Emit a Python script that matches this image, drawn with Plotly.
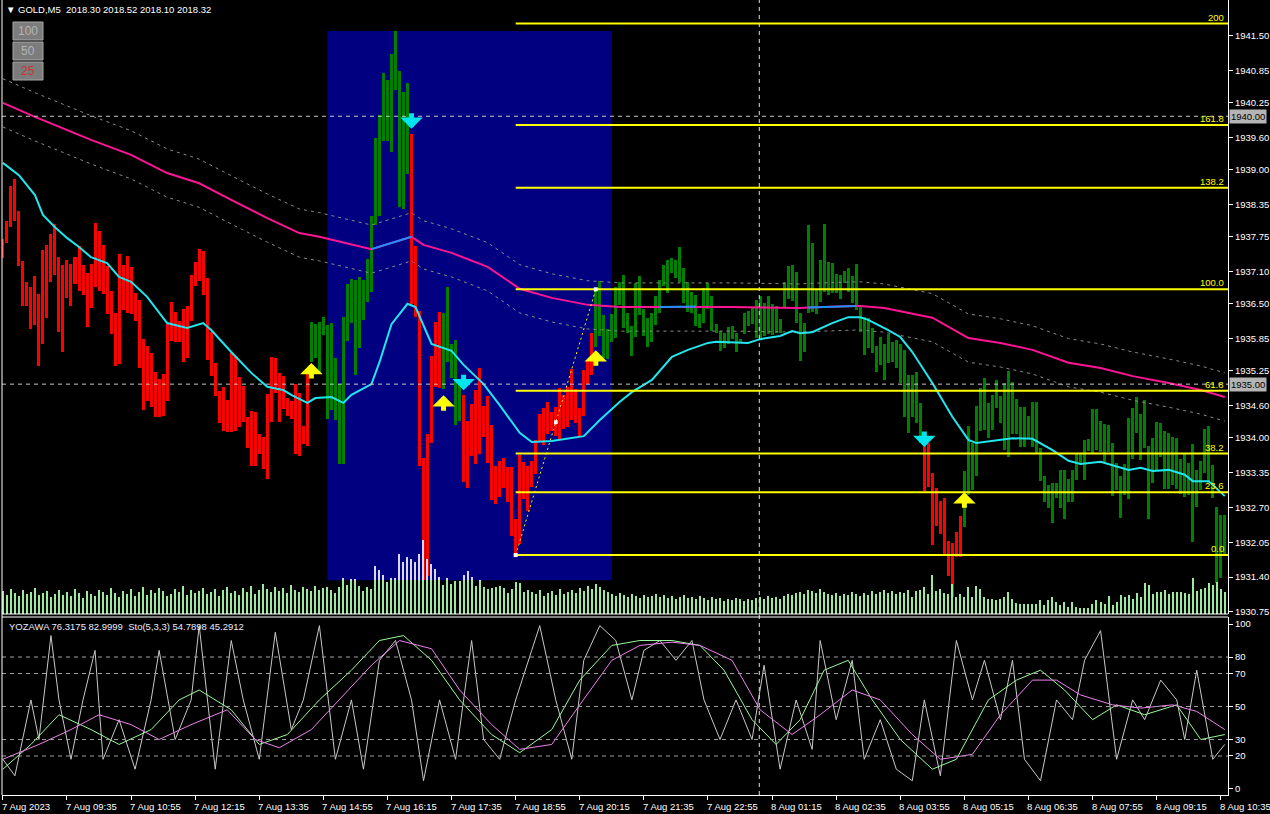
import plotly.graph_objects as go

# ---------------- DATA ----------------
bar_high = [
1937.71,1938.04,1938.70,1938.83,1938.23,1937.30,1936.90,1936.81,1937.01,1936.68,
1937.50,1937.60,1937.81,1937.99,1937.37,1937.23,1937.32,1937.24,1937.37,1937.58,
1937.23,1937.07,1937.24,1938.01,1937.86,1937.60,1937.21,1936.74,1936.33,1937.43,
1937.23,1937.39,1937.19,1936.70,1936.57,1935.84,1935.71,1935.58,1935.22,1935.09,
1935.19,1936.12,1936.53,1936.34,1936.18,1936.40,1936.46,1937.04,1937.28,1937.52,
1937.48,1936.98,1935.97,1935.39,1934.87,1934.95,1934.70,1935.60,1935.53,1935.13,
1934.97,1934.39,1934.50,1934.48,1934.07,1934.01,1934.81,1935.51,1935.49,1935.21,
1935.15,1934.74,1934.68,1935.00,1934.83,1934.22,1935.28,1936.16,1936.12,1936.16,
1936.25,1936.10,1936.14,1935.49,1935.00,1936.25,1936.87,1936.96,1936.94,1937.00,
1936.94,1937.34,1938.14,1939.59,1940.02,1940.81,1940.68,1941.16,1941.59,1940.84,
1940.45,1940.62,1939.67,1937.58,1936.36,1933.62,1934.07,1935.53,1936.16,1936.35,
1936.33,1936.81,1935.75,1935.82,1935.00,1934.80,1934.31,1934.63,1934.89,1935.30,
1934.59,1934.78,1934.24,1933.47,1933.56,1933.62,1933.45,1933.45,1932.48,1933.68,
1933.54,1933.47,1933.56,1933.96,1934.44,1934.55,1934.66,1934.48,1934.57,1934.93,
1934.80,1934.95,1935.28,1934.91,1934.55,1935.26,1935.45,1935.95,1936.77,1936.92,
1936.29,1936.03,1936.31,1936.81,1936.90,1937.04,1936.33,1936.08,1936.89,1937.02,
1936.40,1936.23,1936.33,1936.64,1936.94,1937.23,1937.32,1937.35,1937.32,1937.56,
1937.17,1936.90,1936.72,1936.66,1936.31,1936.79,1936.89,1936.64,1936.12,1935.99,
1935.95,1936.07,1936.08,1935.95,1935.84,1936.33,1936.36,1936.44,1936.57,1936.64,
1936.51,1936.64,1936.49,1936.46,1936.21,1936.90,1937.21,1937.23,1937.10,1936.33,
1936.14,1937.97,1937.63,1936.76,1937.32,1937.99,1937.28,1937.26,1937.06,1937.04,
1937.11,1937.17,1937.02,1937.24,1936.46,1936.25,1936.23,1936.05,1935.71,1935.88,
1935.75,1935.94,1935.78,1935.82,1935.75,1935.64,1935.17,1935.17,1935.22,1934.65,
1933.90,1933.90,1933.34,1933.06,1932.82,1932.87,1932.07,1932.04,1932.24,1932.54,
1933.38,1934.22,1933.90,1934.59,1934.93,1935.12,1934.65,1934.80,1935.08,1934.78,
1935.02,1935.25,1935.04,1934.72,1934.57,1934.57,1934.41,1934.66,1934.66,1933.81,
1933.29,1933.12,1933.15,1933.15,1933.40,1933.40,1933.23,1933.40,1933.71,1933.70,
1933.96,1933.98,1934.53,1934.53,1934.31,1934.25,1934.24,1933.90,1933.53,1933.29,
1933.51,1934.37,1934.55,1934.76,1934.44,1934.70,1933.84,1933.99,1934.29,1934.27,
1934.12,1934.09,1934.01,1933.99,1933.60,1933.70,1933.53,1933.88,1933.40,1933.56,
1934.16,1934.22,1933.49,1932.71,1932.56,1932.56]

bar_low = [
1937.35,1937.63,1937.93,1938.04,1937.21,1936.46,1936.46,1936.03,1936.10,1935.34,
1935.75,1936.23,1936.90,1937.04,1935.97,1935.60,1936.61,1936.46,1936.87,1936.74,
1936.66,1936.07,1936.42,1936.81,1936.74,1936.68,1936.31,1935.94,1935.34,1935.38,
1936.38,1936.33,1936.31,1936.18,1935.30,1934.52,1934.68,1934.57,1934.39,1934.39,
1934.41,1934.68,1935.80,1935.78,1935.78,1935.41,1935.49,1936.18,1936.83,1936.92,
1936.66,1935.45,1935.15,1934.78,1934.27,1934.12,1934.10,1934.10,1934.12,1934.20,
1934.29,1933.81,1933.47,1933.47,1933.70,1933.42,1933.23,1934.29,1934.83,1934.29,
1934.53,1934.41,1934.35,1933.70,1933.66,1933.88,1933.85,1935.41,1935.49,1935.19,
1935.92,1934.35,1934.52,1934.33,1933.51,1933.51,1935.80,1936.14,1935.17,1935.67,
1936.20,1936.53,1936.72,1937.97,1938.14,1939.54,1939.54,1939.33,1940.49,1938.31,
1938.27,1938.92,1936.50,1936.25,1933.47,1931.34,1931.42,1933.90,1934.95,1934.93,
1934.91,1935.41,1935.11,1934.24,1934.31,1933.17,1933.06,1933.66,1933.51,1933.70,
1934.01,1933.53,1932.84,1932.76,1932.89,1933.06,1932.80,1932.17,1931.81,1932.02,
1932.85,1932.63,1933.08,1933.32,1933.92,1933.86,1934.07,1934.12,1934.03,1933.96,
1934.16,1934.20,1934.33,1934.27,1934.03,1934.41,1935.00,1935.17,1935.69,1935.90,
1935.49,1935.47,1935.78,1935.86,1936.48,1936.05,1935.95,1935.53,1935.88,1936.29,
1935.90,1935.69,1935.78,1936.10,1936.33,1936.83,1936.70,1937.07,1936.98,1936.90,
1936.51,1936.35,1936.33,1936.08,1936.05,1936.14,1936.40,1935.99,1935.95,1935.62,
1935.67,1935.75,1935.84,1935.60,1935.77,1935.94,1936.08,1936.12,1935.86,1935.86,
1935.90,1935.94,1935.92,1935.95,1935.95,1936.44,1936.59,1936.55,1936.14,1935.43,
1935.60,1936.33,1936.35,1936.31,1936.53,1936.72,1936.66,1936.70,1936.70,1936.59,
1936.89,1936.72,1936.51,1936.38,1935.97,1935.55,1935.67,1935.58,1935.22,1935.36,
1935.08,1935.39,1935.41,1935.30,1935.02,1934.39,1934.09,1934.39,1934.27,1933.90,
1933.00,1933.08,1932.00,1932.35,1932.20,1931.79,1931.42,1931.03,1931.77,1931.77,
1932.34,1932.93,1933.02,1933.28,1934.12,1934.14,1933.99,1934.14,1934.55,1934.27,
1933.77,1933.64,1934.07,1934.07,1933.83,1933.83,1933.99,1933.83,1933.71,1933.19,
1932.80,1932.69,1932.41,1932.87,1932.69,1932.48,1932.80,1932.80,1933.21,1933.49,
1933.21,1933.75,1933.71,1933.77,1933.73,1933.53,1933.73,1932.91,1933.02,1932.50,
1932.93,1932.85,1933.60,1934.09,1933.58,1933.81,1932.48,1933.15,1933.40,1933.64,
1933.04,1933.04,1933.12,1933.04,1932.95,1932.89,1932.93,1932.06,1932.71,1933.02,
1933.34,1933.15,1932.87,1931.29,1931.38,1931.79]

# direction runs: (number of bars, 'up' / 'dn')
bar_runs = [(77, 'dn'), (25, 'up'), (8, 'dn'), (5, 'up'), (33, 'dn'), (82, 'up'), (10, 'dn'), (66, 'up')]

tick_volume = [
230,190,250,210,180,240,200,220,260,190, 210,230,170,200,240,190,220,180,250,210,
160,230,200,180,240,220,190,260,210,170, 230,200,250,180,220,270,190,240,210,260,
230,180,200,250,220,280,190,240,210,230, 260,200,220,250,180,240,270,210,230,190,
260,220,280,200,240,300,250,220,270,230, 260,210,290,240,220,270,250,230,280,240,
260,
270,240,210,270,360,290,350,350,280,230, 270,250,480,440,390,320,360,360,600,520,
570,550,520,600,740,550,500,450,370,290, 360,300,330,330,390,430,370,280,340,270,
250,260,270,280,260,210,250,320,310,220, 240,
220,200,240,180,210,230,190,250,200,220, 240,210,260,230,280,250,300,270,240,220,
200,180,210,190,170,200,180,160,190,170, 180,200,170,190,160,180,150,170,190,160,
170,150,180,160,140,170,150,160,130,150, 140,160,150,130,150,140,160,170,150,180,
160,170,150,180,200,190,210,220,200,240, 230,210,250,220,200,190,210,180,200,190,
220,200,180,210,190,230,200,220,240,210, 230,200,220,
210,240,170,230,240,270,200,390,230,250, 210,200,300,170,200,170,270,170,280,250,
170,150,150,140,150,170,220,150,110,100, 100,100,100,100,140,90,140,170,120,90,
120,70,120,70,60,60,60,100,140,120, 100,180,90,120,190,170,190,150,210,170,
310,290,200,220,220,240,200,220,220,220, 210,200,360,230,250,260,310,290,320,250,220]

slow_ma_bar = [0,8,22,32,41,49,57,66,74,79,92,102,105,112,121,129,137,146,154,164,
               173,182,199,201,213,214,220,229,232,241,249,257,266,274,282,291,299,305]
slow_ma = [1940.25,1939.99,1939.56,1939.28,1938.94,1938.75,1938.44,1938.10,1937.82,1937.75,
           1937.52,1937.75,1937.60,1937.45,1937.19,1936.78,1936.61,1936.48,1936.44,1936.44,
           1936.45,1936.44,1936.42,1936.43,1936.46,1936.46,1936.42,1936.29,1936.24,1935.86,
           1935.77,1935.64,1935.40,1935.30,1935.15,1935.02,1934.89,1934.76]
slow_ma_rising = [(92, 102), (164, 173), (201, 213)]
envelope_dev = 0.45

fast_ma_bar = [0,4,8,10,13,16,19,22,26,29,32,36,41,46,50,52,57,62,66,70,72,76,78,82,85,87,92,94,97,101,
               103,106,107,112,115,120,124,129,132,137,145,149,154,157,162,167,171,176,178,186,
               189,194,197,199,202,207,211,214,216,221,224,227,232,237,241,243,247,252,257,262,
               266,269,274,277,281,284,287,291,295,297,301,305]
fast_ma = [1939.13,1938.90,1938.53,1938.16,1937.93,1937.73,1937.56,1937.37,1937.26,1937.00,
           1936.91,1936.63,1936.14,1936.05,1936.14,1936.01,1935.60,1935.21,1934.95,1934.89,
           1934.80,1934.65,1934.74,1934.76,1934.65,1934.80,1935.00,1935.41,1936.12,1936.50,
           1936.44,1935.90,1935.75,1935.62,1935.36,1935.00,1934.61,1934.09,1933.92,1933.94,
           1934.03,1934.33,1934.67,1934.85,1935.08,1935.51,1935.64,1935.77,1935.79,1935.77,
           1935.84,1935.90,1935.99,1935.95,1935.97,1936.14,1936.25,1936.25,1936.20,1936.01,
           1935.88,1935.60,1935.02,1934.39,1933.96,1933.90,1933.94,1933.99,1933.98,1933.77,
           1933.57,1933.51,1933.55,1933.49,1933.40,1933.44,1933.38,1933.40,1933.31,1933.19,
           1933.19,1932.91]

signal_up_bar = [77, 110, 148, 240]
signal_up_price = [1935.45, 1934.85, 1935.69, 1933.04]
signal_dn_bar = [102, 115, 230]
signal_dn_price = [1939.71, 1934.83, 1933.77]

fib_low_bar, fib_high_bar = 128, 148
fib_levels = [0.0, 23.6, 38.2, 61.8, 100.0, 138.2, 161.8, 200.0]
fib_labels = ["0.0", "23.6", "38.2", "61.8", "100.0", "138.2", "161.8", "200"]

box_first_bar, box_last_bar = 81, 152
box_top_bar, box_bottom_bar = 98, 105
hlines = [1940.00, 1935.00]
cursor_bar = 188.8

yoz_bar = [0,3,7,9,12,14,17,20,23,25,29,33,37,39,43,47,49,53,57,60,64,68,72,75,79,83,87,90,94,98,
           102,105,109,113,117,120,124,128,132,134,138,142,145,149,153,157,160,164,168,172,
           175,179,183,187,190,194,198,202,204,208,212,215,219,223,227,230,234,238,242,245,
           249,252,255,259,263,267,270,274,278,282,285,289,293,295,298,302,305]
yoz = [18,8,54,30,93,54,18,54,84,18,42,12,54,84,30,54,99,12,90,54,18,95,36,54,99,18,54,12,78,90,
       54,5,54,18,90,30,18,54,84,99,54,18,78,99,90,54,84,90,78,90,54,30,54,30,75,12,54,24,90,42,
       78,18,42,12,5,54,8,90,54,78,42,78,18,5,54,42,78,96,18,54,42,66,54,30,72,18,27]
sto_bar = [0,7,14,22,29,37,44,49,57,64,71,79,87,94,100,107,114,122,129,137,144,152,159,167,174,
           180,187,193,199,205,211,217,224,232,238,246,253,259,265,272,278,285,293,299,305]
sto_main = [12,27,45,36,27,36,54,60,48,27,33,54,72,90,93,78,54,33,22,36,66,87,90,90,87,
            72,42,27,42,72,78,54,30,12,18,54,66,72,60,42,51,45,51,30,33]
sig_bar = [0,9,17,24,32,39,47,56,63,69,77,84,92,99,107,114,122,129,137,144,152,159,167,174,182,
           189,197,204,212,219,227,234,242,249,257,263,269,277,284,292,298,305]
sto_signal = [18,27,36,45,39,30,39,48,30,25,36,54,75,90,85,60,39,24,27,51,78,87,89,87,78,
              48,33,45,60,54,33,18,21,45,66,66,57,51,49,51,47,36]
osc_levels = [20, 30, 50, 70, 80]

price_ticks = [1941.50,1940.85,1940.25,1939.60,1939.00,1938.35,1937.75,1937.10,1936.50,
               1935.85,1935.25,1934.60,1934.00,1933.35,1932.70,1932.05,1931.40,1930.75]
osc_ticks = [0, 20, 30, 50, 70, 80, 100]
time_tick_labels = ["7 Aug 2023","7 Aug 09:35","7 Aug 10:55","7 Aug 12:15","7 Aug 13:35",
                    "7 Aug 14:55","7 Aug 16:15","7 Aug 17:35","7 Aug 18:55","7 Aug 20:15",
                    "7 Aug 21:35","7 Aug 22:55","8 Aug 01:15","8 Aug 02:35","8 Aug 03:55",
                    "8 Aug 05:15","8 Aug 06:35","8 Aug 07:55","8 Aug 09:15","8 Aug 10:35"]
time_tick_step = 16

# ---------------- LAYOUT CONSTANTS ----------------
W, H = 1270, 814
ML, MR, MT, MB = 2, 42, 0, 19
PW, PH = W - ML - MR, H - MT - MB
FONT = "Liberation Sans"
FS = 9.5
main_dom = [(PH - 614) / PH, 1.0]
osc_dom = [0.0, (PH - 617) / PH]
price_range = [1930.71, 1942.17]
osc_range = [-3.64, 104.24]
x_range = [-0.22, 305.8]
vol_max = 6140

def px_x(px):
    return (px - ML) / PW

def px_y(py):
    return (PH - (py - MT)) / PH

n = len(bar_high)
idx = list(range(n))
direction = []
for cnt, d in bar_runs:
    direction += [d] * cnt

fig = go.Figure()

# volume
fig.add_trace(go.Bar(x=idx, y=tick_volume, width=0.3, marker=dict(color="#9CE89C", line=dict(width=0)),
                     yaxis="y3", hoverinfo="skip"))
box_lo = bar_low[box_bottom_bar]
box_hi = bar_high[box_top_bar]
vol_at_box = (box_lo - price_range[0]) / (price_range[1] - price_range[0]) * vol_max
vx, vb, vh = [], [], []
for i in range(box_first_bar, box_last_bar + 1):
    if tick_volume[i] > vol_at_box:
        vx.append(i); vb.append(vol_at_box); vh.append(tick_volume[i] - vol_at_box)
fig.add_trace(go.Bar(x=vx, y=vh, base=vb, width=0.3, marker=dict(color="#D8D8FF", line=dict(width=0)),
                     yaxis="y3", hoverinfo="skip"))

# price bars
for d, col in (("dn", "#FF0000"), ("up", "#008000")):
    xs = [i for i in idx if direction[i] == d]
    fig.add_trace(go.Bar(x=xs, y=[bar_high[i] - bar_low[i] for i in xs], base=[bar_low[i] for i in xs],
                         width=0.75, marker=dict(color=col, line=dict(width=0)), yaxis="y", hoverinfo="skip"))

# envelopes
fig.add_trace(go.Scatter(x=slow_ma_bar, y=[v + envelope_dev for v in slow_ma], mode="lines",
                         line=dict(color="#8a8a8a", width=1, dash="3px,4px"), yaxis="y"))
fig.add_trace(go.Scatter(x=slow_ma_bar, y=[v - envelope_dev for v in slow_ma], mode="lines",
                         line=dict(color="#8a8a8a", width=1, dash="3px,4px"), yaxis="y"))
# slow MA
fig.add_trace(go.Scatter(x=slow_ma_bar, y=slow_ma, mode="lines", line=dict(color="#FF1493", width=2), yaxis="y"))
for a, b in slow_ma_rising:
    xs = [x for x in slow_ma_bar if a <= x <= b]
    ys = [slow_ma[slow_ma_bar.index(x)] for x in xs]
    fig.add_trace(go.Scatter(x=xs, y=ys, mode="lines", line=dict(color="#1E90FF", width=2), yaxis="y"))
# fast MA
fig.add_trace(go.Scatter(x=fast_ma_bar, y=fast_ma, mode="lines", line=dict(color="#22E6EE", width=2), yaxis="y"))

# fibonacci
f0 = bar_low[fib_low_bar]
f1 = bar_high[fib_high_bar]
annotations = []
for lv, lab in zip(fib_levels, fib_labels):
    p = f0 + (f1 - f0) * lv / 100.0
    fig.add_trace(go.Scatter(x=[fib_low_bar, x_range[1]], y=[p, p], mode="lines",
                             line=dict(color="#FFFF00", width=2), yaxis="y"))
    annotations.append(dict(x=1, xref="paper", y=p, yref="y", text=lab, showarrow=False,
                            xanchor="right", yanchor="bottom", xshift=-2, yshift=-1,
                            font=dict(color="#FFFF00", size=FS, family=FONT)))
fig.add_trace(go.Scatter(x=[fib_low_bar, fib_high_bar], y=[f0, f1], mode="lines",
                         line=dict(color="#FFFF00", width=1, dash="2px,3px"), yaxis="y"))
fig.add_trace(go.Scatter(x=[fib_low_bar, (fib_low_bar + fib_high_bar) / 2, fib_high_bar],
                         y=[f0, (f0 + f1) / 2, f1], mode="markers",
                         marker=dict(color="white", size=4, symbol="square"), yaxis="y"))

# oscillator
fig.add_trace(go.Scatter(x=yoz_bar, y=yoz, mode="lines", line=dict(color="#C8C8C8", width=1), yaxis="y2"))
fig.add_trace(go.Scatter(x=sto_bar, y=sto_main, mode="lines", line=dict(color="#98FB98", width=1), yaxis="y2"))
fig.add_trace(go.Scatter(x=sig_bar, y=sto_signal, mode="lines", line=dict(color="#EE82EE", width=1), yaxis="y2"))

# signal arrows (block arrows: thick shaft + filled head)
for b, p in zip(signal_up_bar, signal_up_price):
    annotations.append(dict(x=b, y=p, xref="x", yref="y", ax=0, ay=20, showarrow=True, text="",
                            arrowhead=1, arrowsize=0.75, arrowwidth=5, arrowcolor="#FFFF00", standoff=3))
for b, p in zip(signal_dn_bar, signal_dn_price):
    annotations.append(dict(x=b, y=p, xref="x", yref="y", ax=0, ay=-20, showarrow=True, text="",
                            arrowhead=1, arrowsize=0.75, arrowwidth=5, arrowcolor="#00E5EE", standoff=3))

shapes = []
shapes.append(dict(type="rect", xref="x", yref="y", x0=box_first_bar, x1=box_last_bar, y0=box_lo, y1=box_hi,
                   fillcolor="#000080", line=dict(width=0), layer="below"))
for hp in hlines:
    shapes.append(dict(type="line", xref="paper", yref="y", x0=0, x1=1, y0=hp, y1=hp,
                       line=dict(color="#C8C8C8", width=1, dash="4px,4px")))
    annotations.append(dict(x=1, xref="paper", y=hp, yref="y", text="%.2f" % hp, showarrow=False,
                            xanchor="left", xshift=1, bgcolor="#B4B4B4", borderpad=1,
                            font=dict(color="black", size=FS, family=FONT)))
for lv in osc_levels:
    shapes.append(dict(type="line", xref="paper", yref="y2", x0=0, x1=1, y0=lv, y1=lv,
                       line=dict(color="#A0A0A0", width=1, dash="4px,4px")))
shapes.append(dict(type="line", xref="x", yref="paper", x0=cursor_bar, x1=cursor_bar, y0=0, y1=1,
                   line=dict(color="#E0E0E0", width=1, dash="4px,4px")))
# panel frames
shapes.append(dict(type="line", xref="paper", yref="paper", x0=0, x1=0, y0=0, y1=1, line=dict(color="white", width=1)))
shapes.append(dict(type="line", xref="paper", yref="paper", x0=0, x1=1, y0=main_dom[0], y1=main_dom[0], line=dict(color="white", width=1)))
shapes.append(dict(type="line", xref="paper", yref="paper", x0=0, x1=1, y0=osc_dom[1], y1=osc_dom[1], line=dict(color="white", width=1)))

# scale buttons
for k, (lab, col) in enumerate((("100", "#B4B4B4"), ("50", "#B4B4B4"), ("25", "#C83232"))):
    top = 22 + 20 * k
    shapes.append(dict(type="rect", xref="paper", yref="paper", x0=px_x(13), x1=px_x(43),
                       y0=px_y(top + 18), y1=px_y(top), fillcolor="#7C7C7C",
                       line=dict(color="#A8A8A8", width=1)))
    annotations.append(dict(x=px_x(28), y=px_y(top + 9), xref="paper", yref="paper", text=lab,
                            xanchor="center", yanchor="middle",
                            showarrow=False, font=dict(color=col, size=12, family=FONT)))

annotations.append(dict(x=px_x(4), y=px_y(10), xref="paper", yref="paper", xanchor="left", yanchor="middle",
                        text="\u25BC GOLD,M5  2018.30 2018.52 2018.10 2018.32", showarrow=False,
                        font=dict(color="white", size=FS, family=FONT)))
annotations.append(dict(x=px_x(7), y=px_y(626), xref="paper", yref="paper", xanchor="left", yanchor="middle",
                        text="YOZAWA 76.3175 82.9999  Sto(5,3,3) 54.7898 45.2912", showarrow=False,
                        font=dict(color="#E8ECFF", size=FS, family=FONT)))
time_ticks = [k * time_tick_step for k in range(len(time_tick_labels))]
for t, lab in zip(time_ticks, time_tick_labels):
    annotations.append(dict(x=t, xref="x", y=0, yref="paper", text=lab, showarrow=False,
                            xanchor="left", yanchor="top", yshift=-4, xshift=-3,
                            font=dict(color="white", size=FS, family=FONT)))

axis_common = dict(showgrid=False, zeroline=False, automargin=False)
fig.update_layout(
    template="none",
    width=W, height=H, margin=dict(l=ML, r=MR, t=MT, b=MB, autoexpand=False),
    paper_bgcolor="black", plot_bgcolor="black", showlegend=False,
    barmode="overlay", bargap=0, hovermode=False,
    xaxis=dict(range=x_range, anchor="y2", tickvals=time_ticks, ticks="outside", ticklen=4,
               tickcolor="white", showticklabels=False, showline=True, linecolor="white", **axis_common),
    yaxis=dict(domain=main_dom, range=price_range, side="right", anchor="x", tickvals=price_ticks,
               ticktext=["%.2f" % v for v in price_ticks], ticks="outside", ticklen=4, tickcolor="white",
               tickfont=dict(color="white", size=FS, family=FONT), showline=True, linecolor="white",
               **axis_common),
    yaxis2=dict(domain=osc_dom, range=osc_range, side="right", anchor="x", tickvals=osc_ticks,
                ticks="outside", ticklen=4, tickcolor="white",
                tickfont=dict(color="white", size=FS, family=FONT), showline=True, linecolor="white",
                **axis_common),
    yaxis3=dict(domain=main_dom, overlaying="y", range=[0, vol_max], visible=False, **axis_common),
    shapes=shapes, annotations=annotations,
)

fig.write_html("out.html", config={"displayModeBar": False},
               post_script="document.body.style.margin='0';document.body.style.overflow='hidden';")
